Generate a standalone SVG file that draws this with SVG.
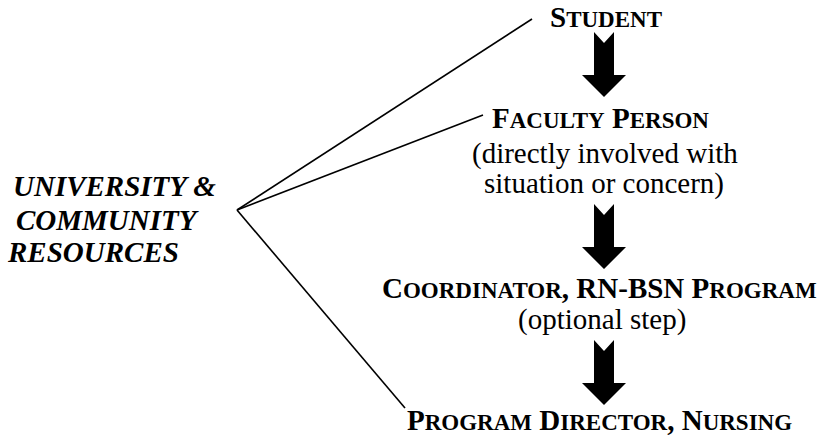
<svg xmlns="http://www.w3.org/2000/svg" width="830" height="441" viewBox="0 0 830 441">
<style>
.t{font-family:"Liberation Serif","Times New Roman",serif;font-size:29px;fill:#000}
.b{font-weight:bold}
.sc{font-size:23px}
.it{font-style:italic;font-weight:bold}
.ln{stroke:#000;stroke-width:1.6;fill:none}
.ar{fill:#000}
</style>
<defs>
<polygon id="arrow" points="-10,0 0,11 10,0 10,43 22,43 0,65 -22,43 -10,43"/>
</defs>
<rect width="830" height="441" fill="#fff"/>
<g id="connectors">
<line class="ln" x1="237" y1="210" x2="532" y2="19"/>
<line class="ln" x1="237" y1="210" x2="483" y2="115"/>
<line class="ln" x1="237" y1="210" x2="405" y2="408"/>
<use href="#arrow" class="ar" x="604" y="32"/>
<use href="#arrow" class="ar" x="604" y="204"/>
<use href="#arrow" class="ar" x="604" y="340"/>
</g>
<g id="resources">
<text class="t it" x="13" y="196">UNIVERSITY &amp;</text>
<text class="t it" x="16" y="230">COMMUNITY</text>
<text class="t it" x="8" y="262">RESOURCES</text>
</g>
<g id="student">
<text class="t b" x="606" y="27" text-anchor="middle">S<tspan class="sc">TUDENT</tspan></text>
</g>
<g id="faculty">
<text class="t b" x="492" y="128">F<tspan class="sc">ACULTY</tspan> P<tspan class="sc">ERSON</tspan></text>
<text class="t" x="472" y="163">(directly involved with</text>
<text class="t" x="484" y="193">situation or concern)</text>
</g>
<g id="coordinator">
<text class="t b" x="382" y="298">C<tspan class="sc">OORDINATOR</tspan>, RN-BSN P<tspan class="sc">ROGRAM</tspan></text>
<text class="t" x="518" y="329">(optional step)</text>
</g>
<g id="director">
<text class="t b" x="407" y="430">P<tspan class="sc">ROGRAM</tspan> D<tspan class="sc">IRECTOR</tspan>, N<tspan class="sc">URSING</tspan></text>
</g>
</svg>
